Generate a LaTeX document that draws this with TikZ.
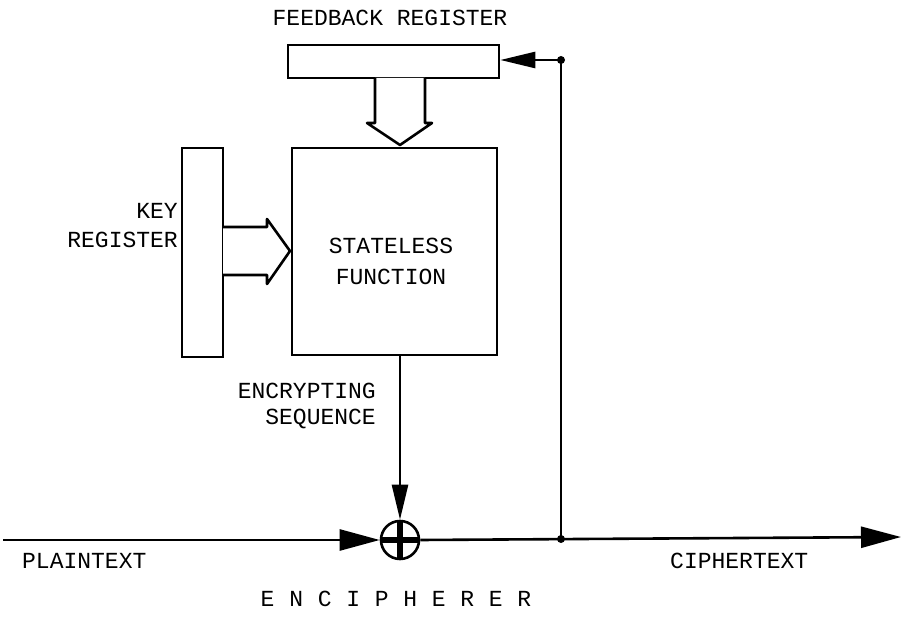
\documentclass[tikz,border=0pt]{standalone}
\usepackage{fontspec}
\setmainfont{Liberation Mono}
\usetikzlibrary{arrows.meta}
\begin{document}
\begin{tikzpicture}[x=1pt,y=-1pt,
  lbl/.style={font=\fontsize{23}{27}\selectfont, inner sep=0pt, align=center},
  box/.style={draw, line width=2.6pt, inner sep=0pt},
  wire/.style={line width=2.6pt},
  bigtip/.style={-{Triangle[length=40pt,width=21pt]}},
  midtip/.style={-{Triangle[length=35pt,width=16pt]}},
  hollow/.style={line width=2.6pt, fill=white, line join=round},
  dotnode/.style={circle, fill, inner sep=0pt, minimum size=8pt}
]
\useasboundingbox (0,0) rectangle (903,639);

% boxes
\node[box, minimum width=211pt, minimum height=33pt] (fb) at (393.5,61.5) {};
\node[box, minimum width=205pt, minimum height=207pt] (sf) at (394.5,251.5) {};
\node[box, minimum width=41pt, minimum height=209pt] (key) at (202.5,252.5) {};
\node[circle, draw, line width=2.6pt, minimum size=38pt, inner sep=0pt] (xor) at (400,540) {};
\draw[line width=5.5pt] (xor.north) -- (xor.south);
\draw[line width=5.5pt] (xor.west) -- (xor.east);

% labels
\node[lbl] (tfb) at (390,18) {FEEDBACK REGISTER};
\node[lbl, anchor=east] (tkey1) at (178,211) {KEY};
\node[lbl, anchor=east] (tkey2) at (178,240) {REGISTER};
\node[lbl] (tsf) at (391,261) {STATELESS\\[4pt]FUNCTION};
\node[lbl, anchor=east] (tenc1) at (376,391) {ENCRYPTING};
\node[lbl, anchor=east] (tenc2) at (376,419) {SEQUENCE};
\node[lbl, anchor=west] (tpt) at (22,561) {PLAINTEXT};
\node[lbl, anchor=west] (tct) at (670,561) {CIPHERTEXT};
\node[lbl] (tenc) at (396,599) {\addfontfeature{LetterSpace=4}E N C I P H E R E R};

% hollow arrows
\draw[hollow] (375,78) -- (375,123) -- (367,123) -- (400,145) -- (432,123) -- (425,123) -- (425,78);
\draw[hollow] (223,227) -- (267,227) -- (267,219) -- (290,251) -- (267,284) -- (267,275) -- (223,275);

% coordinates
\coordinate (pin) at (3,540);
\coordinate (cout) at (901,537);
\node[dotnode] (tap) at (561,539) {};
\node[dotnode] (corner) at (561,60) {};

% connectors
\draw[wire, midtip] (sf.south -| xor.north) -- (xor.north);
\draw[wire, bigtip] (pin) -- (xor.west);
\draw[wire, bigtip] (xor.east) -- (cout);
\draw[wire] (tap.center) -- (corner.center);
\draw[wire, midtip] (corner.center) -- (fb.east |- corner.center);
\end{tikzpicture}
\end{document}
